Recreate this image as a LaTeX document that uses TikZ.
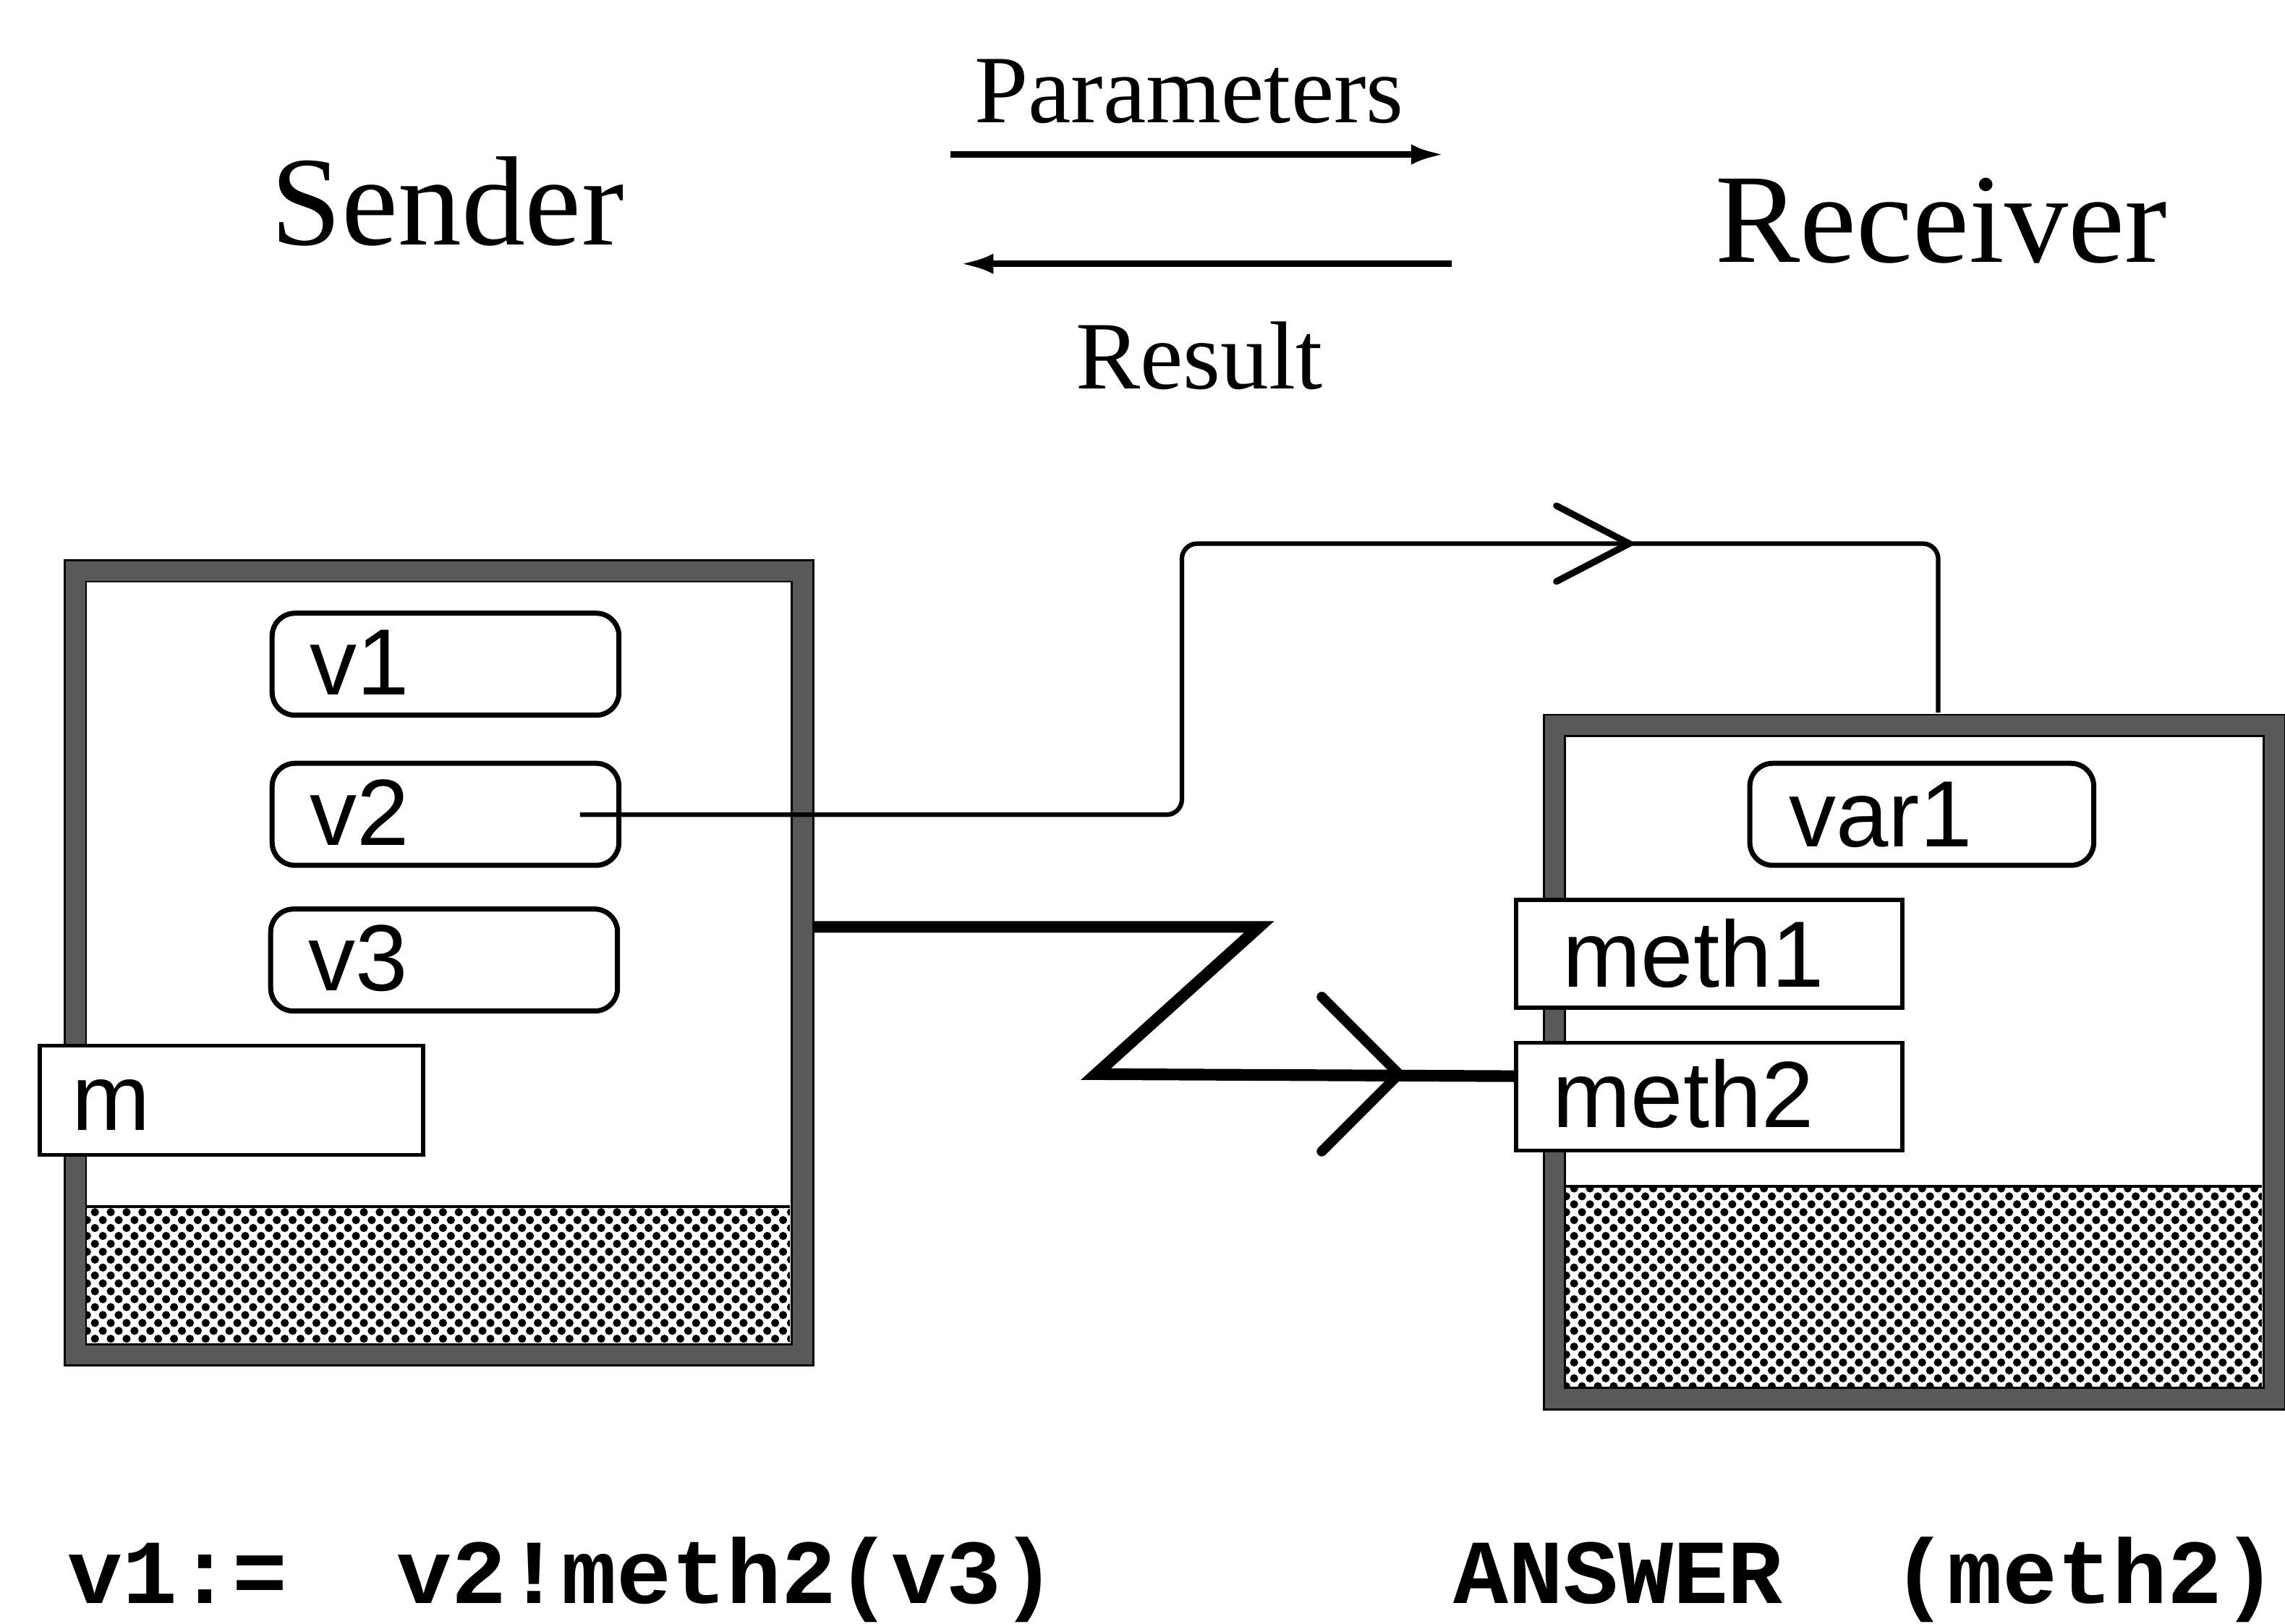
\documentclass[tikz,border=0pt]{standalone}
\usepackage{fontspec}
\setmainfont{Liberation Serif}
\newfontfamily\sansf{Liberation Sans}
\newfontfamily\monof{Liberation Mono}
\usetikzlibrary{arrows.meta,patterns.meta,calc}
\begin{document}
\begin{tikzpicture}[x=0.5732pt,y=-0.5732pt,
  heavy/.style={draw=black,line width=0.8pt,double=black!65,double distance=7.6pt,anchor=north west,inner sep=0pt},
  dotfill/.style={pattern={Dots[distance=4.4pt,radius=1.6pt,angle=45]},pattern color=black},
  lbl/.style={font=\sansf\fontsize{37}{40}\selectfont,inner ysep=0pt,align=left,text depth=0pt,anchor=north west,fill=white,draw},
  varbox/.style={lbl,line width=2pt,rounded corners=9pt,
     minimum width=136.42pt,minimum height=40.12pt,text width=106.62pt,inner xsep=14.9pt,text height=24.07pt},
  methbox/.style={lbl,line width=1.6pt,minimum width=151.9pt,minimum height=42.42pt},
  title/.style={anchor=base,inner sep=0pt},
  code/.style={anchor=base west,inner sep=0pt,font=\monof\bfseries\fontsize{36}{40}\selectfont},
  conn/.style={line width=1.8pt,rounded corners=6pt},
  zline/.style={line width=4.6pt,line join=miter,miter limit=10},
  openhead/.style={line width=4pt,line cap=round,line join=miter},
  thinhead/.style={line width=2.6pt,line cap=round,line join=miter},
  toparrow/.style={line width=2.5pt}
]
\useasboundingbox (0,0) rectangle (1568,1114);

% titles
\node[title,font=\fontsize{50}{56}\selectfont] (sendt) at (307,168) {Sender};
\node[title,font=\fontsize{50}{56}\selectfont] (recvt) at (1332,180) {Receiver};
\node[title,font=\fontsize{38}{44}\selectfont] (part) at (816,84) {Parameters};
\node[title,font=\fontsize{38}{44}\selectfont] (rest) at (823,267) {Result};

\coordinate (pa1) at (652,106);
\coordinate (pa2) at (991,106);
\coordinate (ra1) at (996,181);
\coordinate (ra2) at (659,181);
\draw[toparrow,-{Latex[length=13pt,width=8pt]}] (pa1) -- (pa2);
\draw[toparrow,-{Latex[length=13pt,width=8pt]}] (ra1) -- (ra2);

% hatched storage areas
\fill[dotfill] (59,828) rectangle (542,921);
\draw[line width=1.2pt] (59,828) -- (542,828);
\fill[dotfill] (1074,814) rectangle (1552,951);
\draw[line width=1.2pt] (1074,814) -- (1552,814);

% object boxes
\node[heavy,minimum width=286.03pt,minimum height=308.38pt] (sender) at (51,391) {};
\node[heavy,minimum width=283.16pt,minimum height=264.82pt] (receiver) at (1066,497) {};

% sender contents
\node[varbox] (v1) at (185,419) {v1};
\node[varbox] (v2) at (185,522) {v2};
\node[varbox] (v3) at (184,622) {v3};
\node[methbox,minimum width=150.75pt,minimum height=42.99pt,text width=125.53pt,inner xsep=12.61pt,text height=23.5pt] (m) at (26,716) {m};

% receiver contents
\node[varbox,minimum width=135.28pt,text width=104.32pt,inner xsep=15.48pt,text height=25.22pt] (var1) at (1199,522) {var1};
\node[methbox,text width=115.21pt,inner xsep=18.34pt,text height=26.37pt] (meth1) at (1039,616) {meth1};
\node[methbox,text width=123.24pt,inner xsep=14.33pt,text height=24.07pt] (meth2) at (1039,714) {meth2};

% message connector
\coordinate (v2s) at (398,559);
\coordinate (rtop) at (1330,489);
\draw[conn] (v2s) -- (811,559) -- (811,373) -- (1330,373) -- (rtop);
\draw[thinhead] (1068,347) -- (1118,373) -- (1068,399);

% Z call connector
\coordinate (zs) at (558,636);
\coordinate (ze) at ($(meth2.west)+(0,-14)$);
\draw[zline] (zs) -- (864,636) -- (752,737) -- (ze);
\draw[openhead] (907,684) -- (960,737) -- (907,790);

% code lines
\node[code] (code1) at (46,1100) {v1:=~~v2!meth2(v3)};
\node[code] (code2) at (997,1100) {ANSWER~~(meth2)};
\end{tikzpicture}
\end{document}
